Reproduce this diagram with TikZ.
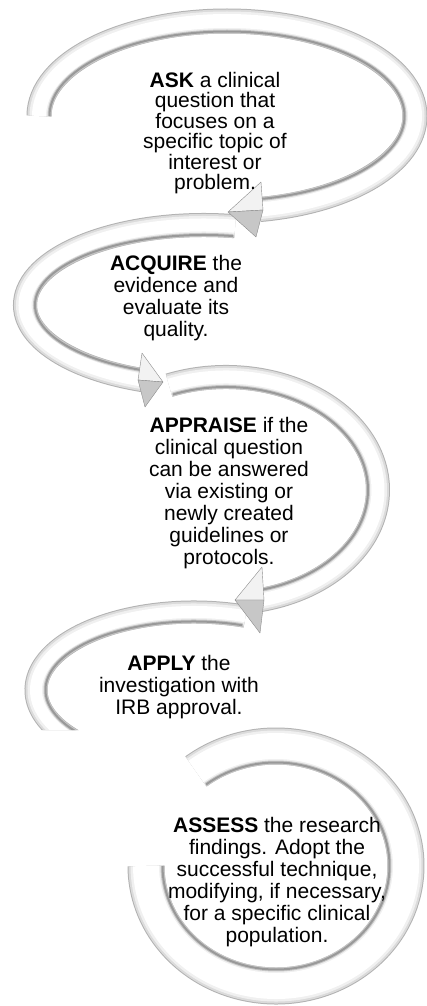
\documentclass[tikz,border=0pt]{standalone}
\usepackage{xcolor}
\usepackage{fontspec}
\setmainfont{Liberation Sans}
\usepackage{tikz}

\begin{document}
\begin{tikzpicture}[x=1pt, y=-1pt,
    arrowBand/.style={line width=#1, draw=black!30,
        postaction={draw=black!14, line width=#1-2pt},
        postaction={draw=black!6, line width=#1-6pt},
        postaction={draw=white, line width=#1-11pt}},
    innerRim/.style={line width=4pt, draw=black!22,
        postaction={draw=black!40, line width=2pt}},
    headLight/.style={draw=black!45, fill=black!5, line join=round},
    headDark/.style={draw=black!45, fill=black!22, line join=round},
    stepText/.style={align=center, inner sep=0pt, anchor=north, font=\fontsize{21}{22}\selectfont}]

  \useasboundingbox (0,0) rectangle (427,1006);

  % centres of the curved arrows
  \coordinate (askCentre) at (227,116);
  \coordinate (acquireCentre) at (204,305);
  \coordinate (appraiseCentre) at (226,490);
  \coordinate (applyCentre) at (194,690);
  \coordinate (assessCentre) at (276,866);

  % bands, with a shadow along the inner edge
  \draw[arrowBand=25pt] (askCentre) ++(180:188 and 95) arc[start angle=180, end angle=440, x radius=188, y radius=95];
  \draw[innerRim] (askCentre) ++(180:177.5 and 84.5) arc[start angle=180, end angle=440, x radius=177.5, y radius=84.5];

  \draw[arrowBand=24pt] (acquireCentre) ++(280:179 and 80) arc[start angle=280, end angle=110, x radius=179, y radius=80];
  \draw[innerRim] (acquireCentre) ++(280:169 and 70) arc[start angle=280, end angle=110, x radius=169, y radius=70];

  \draw[arrowBand=24pt] (appraiseCentre) ++(248:152 and 113) arc[start angle=248, end angle=437, x radius=152, y radius=113];
  \draw[innerRim] (appraiseCentre) ++(248:142 and 103) arc[start angle=248, end angle=437, x radius=142, y radius=103];

  \begin{scope}
    \clip (0,0) rectangle (427,730) (126,730) rectangle (427,1006);
    \draw[arrowBand=23pt] (applyCentre) ++(289:158 and 78) arc[start angle=289, end angle=118, x radius=158, y radius=78];
    \draw[innerRim] (applyCentre) ++(289:148.5 and 68.5) arc[start angle=289, end angle=118, x radius=148.5, y radius=68.5];
  \end{scope}

  \draw[arrowBand=37pt] (assessCentre) ++(232:130 and 120) arc[start angle=232, end angle=540, x radius=130, y radius=120];
  \draw[innerRim] (assessCentre) ++(232:113.5 and 103.5) arc[start angle=232, end angle=540, x radius=113.5, y radius=103.5];

  % arrow heads
  \coordinate (askTip) at (228,212);
  \coordinate (askBarbUp) at (261,182);
  \coordinate (askBack) at (263,210);
  \coordinate (askBarbLow) at (256,237);
  \draw[headLight] (askTip) -- (askBarbUp) -- (askBack) -- cycle;
  \draw[headDark] (askTip) -- (askBack) -- (askBarbLow) -- cycle;

  \coordinate (acquireTip) at (163,382);
  \coordinate (acquireBarbUp) at (142,353);
  \coordinate (acquireBack) at (138,380);
  \coordinate (acquireBarbLow) at (145,407);
  \draw[headLight] (acquireTip) -- (acquireBarbUp) -- (acquireBack) -- cycle;
  \draw[headDark] (acquireTip) -- (acquireBack) -- (acquireBarbLow) -- cycle;

  \coordinate (appraiseTip) at (235,600);
  \coordinate (appraiseBarbUp) at (262,567);
  \coordinate (appraiseBack) at (264,600);
  \coordinate (appraiseBarbLow) at (260,633);
  \draw[headLight] (appraiseTip) -- (appraiseBarbUp) -- (appraiseBack) -- cycle;
  \draw[headDark] (appraiseTip) -- (appraiseBack) -- (appraiseBarbLow) -- cycle;

  % texts
  \node[stepText, font=\fontsize{21}{20.5}\selectfont] (ask) at (215,72)
    {\textbf{ASK} a clinical\\question that\\focuses on a\\specific topic of\\interest or\\problem.};
  \node[stepText] (acquire) at (176,255)
    {\textbf{ACQUIRE} the\\evidence and\\evaluate its\\quality.};
  \node[stepText] (appraise) at (229,417)
    {\textbf{APPRAISE} if the\\clinical question\\can be answered\\via existing or\\newly created\\guidelines or\\protocols.};
  \node[stepText] (apply) at (179,655)
    {\textbf{APPLY} the\\investigation with\\IRB approval.};
  \node[stepText] (assess) at (277,817)
    {\textbf{ASSESS} the research\\findings. Adopt the\\successful technique,\\modifying, if necessary,\\for a specific clinical\\population.};

\end{tikzpicture}
\end{document}
